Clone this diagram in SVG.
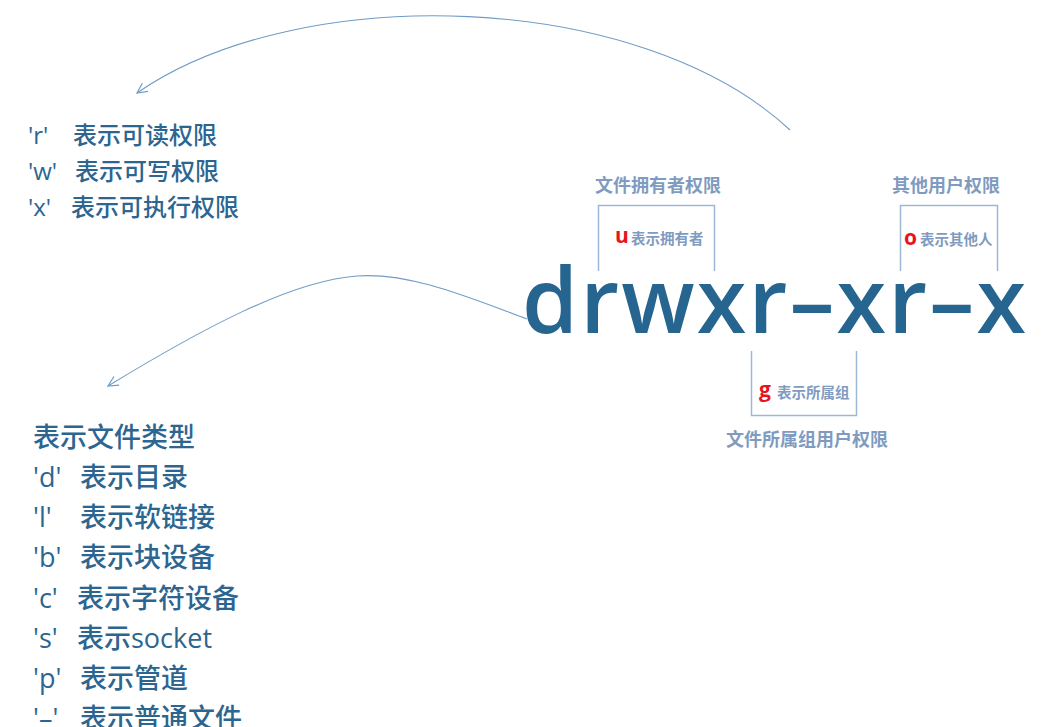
<svg xmlns="http://www.w3.org/2000/svg" width="1048" height="727" viewBox="0 0 1048 727">
<defs>
<style>
.lst{font-family:"Open Sans","Noto Sans CJK SC",sans-serif;fill:#2c6690;font-weight:500}
.t24{font-size:24px}
.t27{font-size:27px}
.big{font-family:"Open Sans","Noto Sans",sans-serif;font-size:90px;fill:#276591;font-weight:600}
.lbl{font-family:"Noto Sans CJK SC",sans-serif;font-weight:bold;fill:#7f9bc0;font-size:18px}
.sm{font-family:"Noto Sans CJK SC",sans-serif;font-weight:bold;fill:#7f9bc0;font-size:14.5px}
.red{font-family:"Open Sans","Liberation Sans",sans-serif;font-weight:bold;fill:#e8141c;font-size:21px}
.brk{fill:none;stroke:#9db8d6;stroke-width:1.5}
.arc{fill:none;stroke:#6f9cc6;stroke-width:1.1;marker-end:url(#ah)}
</style>
<marker id="ah" viewBox="0 0 12 12" refX="11" refY="6" markerWidth="12" markerHeight="12" markerUnits="userSpaceOnUse" orient="auto">
<path d="M1,1 L11,6 L1,11" fill="none" stroke="#6f9cc6" stroke-width="1.2"/>
</marker>
</defs>
<rect width="1048" height="727" fill="#ffffff"/>

<g id="connectors">
<path class="arc" d="M790,130 C640,-10 300,-20 137,93"/>
<path class="arc" d="M527,319 C470,298 410,272 357,276 C290,281 200,330 108,386"/>
</g>

<g id="perm-list">
<text class="lst t24" x="28" y="144">'r'</text><text class="lst t24" x="73" y="144">表示可读权限</text>
<text class="lst t24" x="28" y="180">'w'</text><text class="lst t24" x="75" y="180">表示可写权限</text>
<text class="lst t24" x="28" y="216">'x'</text><text class="lst t24" x="71" y="216">表示可执行权限</text>
</g>

<g id="type-list">
<text class="lst t27" x="33" y="446.5">表示文件类型</text>
<text class="lst t27" x="33" y="486.8">'d'</text><text class="lst t27" x="80" y="486.8">表示目录</text>
<text class="lst t27" x="33" y="527.1">'l'</text><text class="lst t27" x="80" y="527.1">表示软链接</text>
<text class="lst t27" x="33" y="567.4">'b'</text><text class="lst t27" x="80" y="567.4">表示块设备</text>
<text class="lst t27" x="33" y="607.7">'c'</text><text class="lst t27" x="77" y="607.7">表示字符设备</text>
<text class="lst t27" x="33" y="648">'s'</text><text class="lst t27" x="77" y="648">表示socket</text>
<text class="lst t27" x="33" y="688.3">'p'</text><text class="lst t27" x="80" y="688.3">表示管道</text>
<text class="lst t27" x="33" y="728">'–'</text><text class="lst t27" x="80" y="728">表示普通文件</text>
</g>

<g id="perm-string">
<text class="big" x="522" y="333" textLength="504" lengthAdjust="spacing">drwxr–xr–x</text>
</g>

<g id="owner">
<text class="lbl" x="658" y="192" text-anchor="middle">文件拥有者权限</text>
<path class="brk" d="M598.5,271 V205.5 H714.5 V271"/>
<text x="615" y="244"><tspan class="red" dy="-1">u</tspan><tspan class="sm" x="631" dy="1">表示拥有者</tspan></text>
</g>

<g id="other">
<text class="lbl" x="946" y="192" text-anchor="middle">其他用户权限</text>
<path class="brk" d="M900.5,271 V205.5 H997.5 V271"/>
<text x="904" y="245"><tspan class="red">o</tspan><tspan class="sm" x="920">表示其他人</tspan></text>
</g>

<g id="group">
<path class="brk" d="M751.5,351 V415.5 H856.5 V351"/>
<text x="759" y="397"><tspan class="red">g</tspan><tspan class="sm" x="777" dy="1">表示所属组</tspan></text>
<text class="lbl" x="807" y="446" text-anchor="middle">文件所属组用户权限</text>
</g>
</svg>
